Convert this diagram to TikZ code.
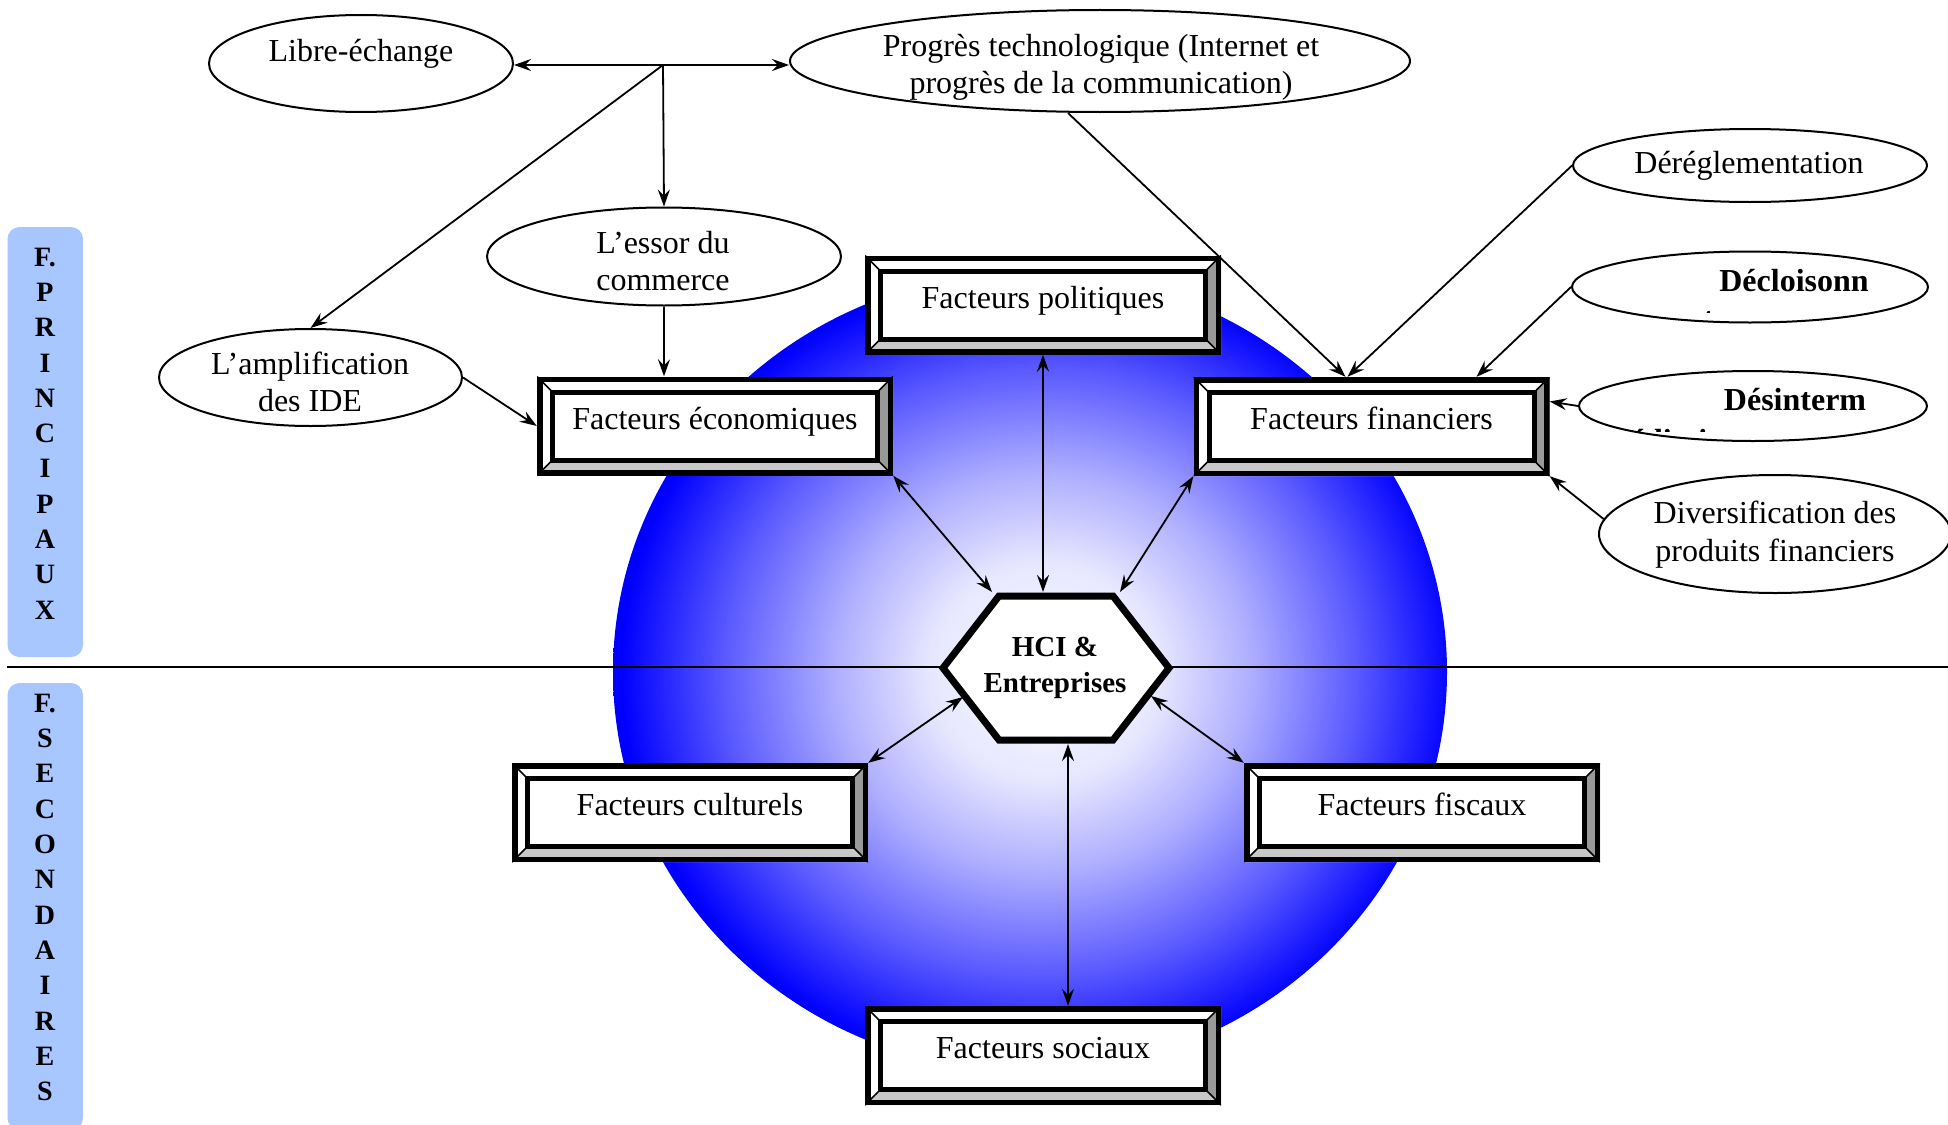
\documentclass[tikz,border=0pt]{standalone}
\usepackage{fontspec}
\setmainfont{Liberation Serif}
\usetikzlibrary{arrows.meta,shapes.geometric,calc}

\definecolor{sidebarblue}{RGB}{168,198,255}
\definecolor{bevelright}{RGB}{153,153,153}
\definecolor{bevelbottom}{RGB}{200,200,200}
\definecolor{orbblue}{RGB}{0,0,255}

% white core fading out to saturated blue at the rim (25bp is the rim once TikZ fits the shading)
\pgfdeclareradialshading{orbshade}{\pgfpoint{1bp}{0bp}}{%
  color(0bp)=(white); color(7bp)=(white!90!orbblue); color(12.5bp)=(white!68!orbblue);
  color(19bp)=(white!35!orbblue); color(25bp)=(orbblue); color(50bp)=(orbblue)}

\newcommand\ovaltext{\fontsize{32}{37}\selectfont}
\newcommand\boldoval{\fontsize{32}{38}\selectfont\bfseries}
\newcommand\hextext{\fontsize{29}{36}\selectfont\bfseries}
\newcommand\sidetext{\fontsize{28}{35.3}\selectfont\bfseries}

\begin{document}
\begin{tikzpicture}[x=1pt,y=-1pt,
  >={Stealth[length=17pt,width=12pt,inset=6pt]},
  oval/.style={ellipse, draw, fill=white, line width=2pt, inner sep=0pt},
  ovallabel/.style={font=\ovaltext, align=center, inner sep=0pt},
  boldlabel/.style={font=\boldoval, align=center, inner sep=0pt},
  link/.style={line width=1.8pt},
  sidebar/.style={fill=sidebarblue, rounded corners=12pt},
  sidelabel/.style={font=\sidetext, align=center, inner sep=0pt},
  bevelbox/.style={rectangle, minimum width=356pt, minimum height=99pt, inner sep=0pt,
    text height=22pt, text depth=16pt, font=\ovaltext, fill=white,
    path picture={
      \coordinate (bbSW) at (path picture bounding box.south west);
      \coordinate (bbNE) at (path picture bounding box.north east);
      \coordinate (bbNW) at (bbSW |- bbNE);
      \coordinate (bbSE) at (bbNE |- bbSW);
      \coordinate (inSW) at ([xshift=15.5pt,yshift=15.5pt]bbSW);
      \coordinate (inNE) at ([xshift=-15.5pt,yshift=-15.5pt]bbNE);
      \coordinate (inNW) at ([xshift=15.5pt,yshift=-15.5pt]bbNW);
      \coordinate (inSE) at ([xshift=-15.5pt,yshift=15.5pt]bbSE);
      \fill[bevelright] (bbNE) -- (bbSE) -- (inSE) -- (inNE) -- cycle;
      \fill[bevelbottom] (bbSW) -- (bbSE) -- (inSE) -- (inSW) -- cycle;
      \draw[line width=1.5pt] (bbSW) -- (inSW) (bbSE) -- (inSE) (bbNE) -- (inNE) (bbNW) -- (inNW);
      \draw[line width=5.5pt] ([xshift=2.75pt,yshift=2.75pt]bbSW) rectangle ([xshift=-2.75pt,yshift=-2.75pt]bbNE);
      \draw[line width=5pt] (inSW) rectangle (inNE);
    }}]
\useasboundingbox (0,0) rectangle (1948,1124);

% shaded orb behind the factor boxes
\path[shading=orbshade] (1030,672) ellipse [x radius=417pt, y radius=400pt];

% divider between main and secondary factors
\coordinate (divL) at (7,667);
\coordinate (divR) at (1948,667);
\draw[line width=1.5pt] (divL) -- (divR);

% side bars
\fill[sidebar] (7.5,227) rectangle (83,657);
\fill[sidebar] (7.5,683) rectangle (83,1130);
\node[sidelabel] (sideTop) at (45,433.5) {F.\\P\\R\\I\\N\\C\\I\\P\\A\\U\\X};
\node[sidelabel] (sideBot) at (45,897.5) {F.\\S\\E\\C\\O\\N\\D\\A\\I\\R\\E\\S};

% ovals
\node[oval, minimum width=304pt, minimum height=97pt] (libre) at (361,63.5) {};
\node[oval, minimum width=620pt, minimum height=102pt] (prog) at (1100,61) {};
\node[oval, minimum width=354pt, minimum height=98pt] (essor) at (664,256.5) {};
\node[oval, minimum width=303pt, minimum height=97pt] (amp) at (310.5,377.5) {};
\node[oval, minimum width=354pt, minimum height=73pt] (dereg) at (1750,165.5) {};
\node[oval, minimum width=356pt, minimum height=71pt] (decl) at (1750,287) {};
\node[oval, minimum width=348pt, minimum height=70pt] (desint) at (1753,406) {};
\node[oval, minimum width=352pt, minimum height=118pt] (div) at (1775,534) {};

\node[ovallabel] (libreT) at (361,54) {Libre-échange};
\node[ovallabel] (progT) at (1101,67.5) {Progrès technologique (Internet et\\progrès de la communication)};
\node[ovallabel] (essorT) at (663,261.5) {L’essor du\\commerce};
\node[ovallabel] (ampT) at (310,382) {L’amplification\\des IDE};
\node[ovallabel] (deregT) at (1749,165.5) {Déréglementation};
\node[boldlabel] (declT) at (1794,281) {Décloisonn};
\node[boldlabel] (desintT) at (1795,400) {Désinterm};
\node[ovallabel, font=\fontsize{32}{38}\selectfont] (divT) at (1775,535) {Diversification des\\produits financiers};

% second lines cut off by their text frames
\begin{scope}
  \clip (1560,250) rectangle (1948,312);
  \node[anchor=base, font=\boldoval, inner sep=0pt] (declB) at (1672,329) {ement};
\end{scope}
\begin{scope}
  \clip (1560,380) rectangle (1948,431);
  \node[anchor=base, font=\boldoval, inner sep=0pt] (desintB) at (1686,451) {édiation};
\end{scope}

% factor boxes
\node[bevelbox] (pol) at (1043,305) {Facteurs politiques};
\node[bevelbox] (eco) at (715,426) {Facteurs économiques};
\node[bevelbox] (fin) at (1371.5,426.5) {Facteurs financiers};
\node[bevelbox] (cul) at (690,812.5) {Facteurs culturels};
\node[bevelbox] (fis) at (1422,812.5) {Facteurs fiscaux};
\node[bevelbox] (soc) at (1043,1055.5) {Facteurs sociaux};

% central hexagon
\draw[line width=7pt, fill=white, line join=miter]
  (943,668) -- (999,596) -- (1113,596) -- (1169,668) -- (1113,740) -- (999,740) -- cycle;
\node[font=\hextext, align=center, inner sep=0pt] (hci) at (1055,668) {HCI \&\\Entreprises};
\coordinate (hexN) at (1043,592);
\coordinate (hexNW) at (992,592);
\coordinate (hexNE) at (1120,592);
\coordinate (hexSW) at (963,697);
\coordinate (hexSE) at (1151,696);
\coordinate (hexS) at (1068,744);

% drivers of the economic factors
\coordinate (fork) at (663,65);
\draw[link,->] (fork) -- (fork -| libre.east);
\draw[link,->] (fork) -- (fork -| prog.west);
\draw[link,->] (fork) -- (essor.north);
\draw[link,->] (fork) -- (amp.north);
\draw[link,->] (essor.south) -- (essor.south |- eco.north);
\draw[link,->] (amp.east) -- (eco.west);

% drivers of the financial factors
\draw[link,->] ([xshift=-32pt]prog.south) -- ([xshift=-26pt]fin.north);
\draw[link,->] (dereg.west) -- ([xshift=-24pt]fin.north);
\draw[link,->] (decl.west) -- ([xshift=105pt]fin.north);
\draw[link,->] (desint.west) -- ([yshift=25pt]fin.east);
\draw[link,->] (div.175) -- (fin.south east);

% factors and the hexagon
\draw[link,<->] (pol.south) -- (hexN);
\draw[link,<->] (eco.south east) -- (hexNW);
\draw[link,<->] (fin.south west) -- (hexNE);
\draw[link,<->] (cul.north east) -- (hexSW);
\draw[link,<->] (fis.north west) -- (hexSE);
\draw[link,<->] ([xshift=25pt]soc.north) -- (hexS);
\end{tikzpicture}
\end{document}
